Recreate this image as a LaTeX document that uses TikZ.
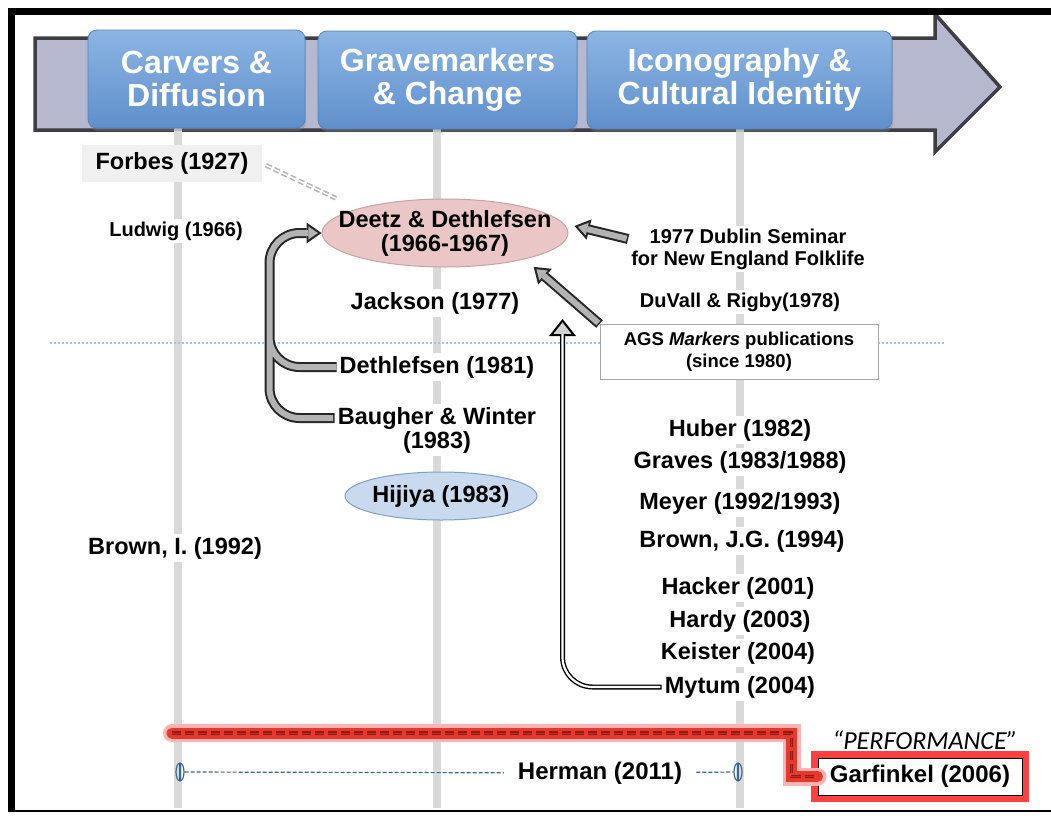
\documentclass[tikz,border=0pt]{standalone}
\usepackage{fontspec}
\setmainfont{Liberation Sans}
\newfontfamily\perffont{Carlito}
\usetikzlibrary{arrows.meta,positioning,shapes.geometric,shadows}

\definecolor{timefill}{HTML}{B5B8CF}
\definecolor{timeedge}{HTML}{3E3E42}
\definecolor{cattop}{HTML}{8CB5E4}
\definecolor{catbottom}{HTML}{5F8FCB}
\definecolor{catedge}{HTML}{5384BE}
\definecolor{trackgray}{HTML}{D9D9D9}
\definecolor{dotblue}{HTML}{9EC4E6}
\definecolor{deetzfill}{HTML}{EBC6C6}
\definecolor{deetzedge}{HTML}{C7A3A3}
\definecolor{hijiyafill}{HTML}{C9DAEE}
\definecolor{hijiyaedge}{HTML}{7F9FC6}
\definecolor{pipegray}{HTML}{B3B3B3}
\definecolor{hermblue}{HTML}{3A6894}
\definecolor{perfred}{HTML}{E5392E}
\definecolor{perfdark}{HTML}{8E1B14}

\begin{document}
\begin{tikzpicture}[x=1pt,y=-1pt,
  every node/.style={font=\fontsize{23.5}{24}\selectfont\bfseries},
  work/.style={fill=white,inner sep=3pt,align=center},
  minor/.style={work,font=\fontsize{20}{22}\selectfont\bfseries},
  catbox/.style={rounded corners=9pt,draw=catedge,line width=0.8pt,
    top color=cattop,bottom color=catbottom,text=white,align=center,
    minimum height=98pt,inner sep=0pt,
    font=\fontsize{32}{33}\selectfont\bfseries,
    drop shadow={opacity=0.35,shadow xshift=1pt,shadow yshift=-3pt}},
  timearrow/.style={draw=timeedge,line width=3.5pt,fill=timefill,line join=miter,
    drop shadow={opacity=0.4,shadow xshift=0pt,shadow yshift=-2pt}},
  track/.style={draw=trackgray,line width=8pt},
  divider/.style={draw=dotblue,line width=2pt,dash pattern=on 2pt off 2pt},
  pipe/.style={draw=black!85,line width=10pt,rounded corners=30pt,
    -{Triangle[length=15pt,width=21pt,line width=0pt]},
    postaction={draw=pipegray,line width=6pt,shorten >=3.6pt,shorten <=1.5pt,
      -{Triangle[length=9.5pt,width=13pt,line width=0pt]}}},
  thinpipe/.style={draw=black,line width=5pt,rounded corners=30pt,
    -{Triangle[length=17pt,width=27pt,line width=0pt]},
    postaction={draw=white,line width=2.2pt,shorten >=3.4pt,shorten <=1.4pt,
      -{Triangle[length=11.5pt,width=18pt,line width=0pt,color=gray!35]}}},
  forbeslink/.style={draw=gray!60,line width=1.5pt,double=white,double distance=1.6pt,
    dash pattern=on 6pt off 3pt,shorten <=4pt,shorten >=24pt},
  hermcap/.style={ellipse,draw=hermblue,line width=1.2pt,minimum width=8pt,
    minimum height=18pt,inner sep=0pt,
    path picture={\draw[hermblue,line width=1.2pt] (path picture bounding box.north)
      -- (path picture bounding box.south);}},
  hermline/.style={draw=hermblue,line width=1.2pt,dash pattern=on 4pt off 2pt},
  perfline/.style={draw=perfred,line width=11pt,line cap=round,
    preaction={draw=red!30,line width=18pt,line cap=round},
    postaction={draw=perfdark,line width=1.2pt,double=perfred!60!perfdark,
      double distance=1pt,line cap=butt,dash pattern=on 9pt off 4pt}},
]
\useasboundingbox (0,0) rectangle (1051,819);

% Timeline arrow
\draw[timearrow] (35,38) -- (935,38) -- (935,14) -- (1000,87) -- (935,152)
  -- (935,130) -- (35,130) -- cycle;

% Tracks under the three themes
\coordinate (t1) at (178,127);
\coordinate (t2) at (437,127);
\coordinate (t3) at (740,127);
\coordinate (floor) at (0,808);
\foreach \t in {t1,t2,t3}
  \draw[track] (\t) -- (\t |- floor);

% Dotted divider
\coordinate (divl) at (50,343);
\coordinate (divr) at (945,343);
\draw[divider] (divl) -- (divr);

% Themes
\node[catbox,minimum width=217pt] (carvers) at (196.5,79) {Carvers \&\\Diffusion};
\node[catbox,minimum width=259pt] (change) at (447.5,80) {Gravemarkers\\\& Change};
\node[catbox,minimum width=305pt] (identity) at (739.5,80) {Iconography \&\\Cultural Identity};

% Left column
\node[work,fill=black!6,minimum width=180pt,minimum height=37pt] (forbes) at (172,163.5) {Forbes (1927)};
\node[minor] (ludwig) at (176,231) {Ludwig (1966)};
\node[work] (browni) at (175,548) {Brown, I. (1992)};

% Middle column
\node[ellipse,draw=deetzedge,fill=deetzfill,line width=1pt,inner sep=0pt,
  minimum width=246pt,minimum height=68pt,align=center] (deetz) at (445,233)
  {\makebox[0pt]{Deetz \& Dethlefsen}\\\makebox[0pt]{(1966-1967)}};
\node[work] (jackson) at (435,303) {Jackson (1977)};
\node[work] (dethl) at (437,367) {Dethlefsen (1981)};
\node[work] (baugher) at (437,430) {Baugher \& Winter\\(1983)};
\node[ellipse,draw=hijiyaedge,fill=hijiyafill,line width=1pt,inner sep=0pt,
  minimum width=192pt,minimum height=48pt] (hijiya) at (441,496)
  {\makebox[0pt]{Hijiya (1983)}};

% Right column
\node[minor] (dublin) at (748,249) {1977 Dublin Seminar\\for New England Folklife};
\node[minor] (duvall) at (740,302) {DuVall \& Rigby(1978)};
\node[work,draw=gray!70,line width=1pt,minimum width=278pt,minimum height=55pt,
  font=\fontsize{18.5}{22}\selectfont\bfseries] (ags) at (739,352)
  {AGS \textit{Markers} publications\\(since 1980)};
\node[work] (huber) at (740,430) {Huber (1982)};
\node[work] (graves) at (740,462) {Graves (1983/1988)};
\node[work] (meyer) at (740,503) {Meyer (1992/1993)};
\node[work] (browng) at (742,541) {Brown, J.G. (1994)};
\node[work] (hacker) at (738,588) {Hacker (2001)};
\node[work] (hardy) at (740,621) {Hardy (2003)};
\node[work] (keister) at (738,653) {Keister (2004)};
\node[work] (mytum) at (740,687) {Mytum (2004)};

% Influences
\draw[forbeslink] (forbes.east) -- (deetz.north west);
\draw[pipe] ([yshift=10pt]dublin.west) -- ([shift={(6,-7)}]deetz.east);
\draw[pipe] (ags.north west) -- ([shift={(16,6)}]deetz.-21);
\draw[pipe] (dethl.west) -| ([xshift=-52pt,yshift=-70pt]deetz.west)
  ([yshift=12pt]baugher.west) -| ([xshift=-52pt]deetz.west) -- (deetz.west);
\draw[thinpipe] (mytum.west) -| ([shift={(-37,-5)}]ags.north west);

% Performance
\node[work,draw=black,line width=1pt,minimum width=204pt,minimum height=37pt,
  font=\fontsize{24}{24}\selectfont\bfseries,
  preaction={draw=red!75,line width=14pt}] (garf) at (920,776.5) {Garfinkel (2006)};
\node[font=\perffont\itshape\fontsize{26}{26}\selectfont] (perf) at (925,740) {“PERFORMANCE”};
\coordinate (perfstart) at (172,733);
\draw[perfline] (perfstart) -| ([xshift=-26pt]garf.west) -- (garf.west);

% Herman span
\node[hermcap] (hl) at (180,772) {};
\node[hermcap] (hr) at (738,772) {};
\node[work,inner xsep=14pt,font=\fontsize{24}{24}\selectfont\bfseries] (herman) at (600,773) {Herman (2011)};
\draw[hermline] (hl) -- (herman) (herman) -- (hr);

% Frame
\draw[line width=7pt] (1051,11) -- (11,11) -- (11,812);
\draw[line width=2pt] (11,811) -- (1051,811);
\end{tikzpicture}
\end{document}
